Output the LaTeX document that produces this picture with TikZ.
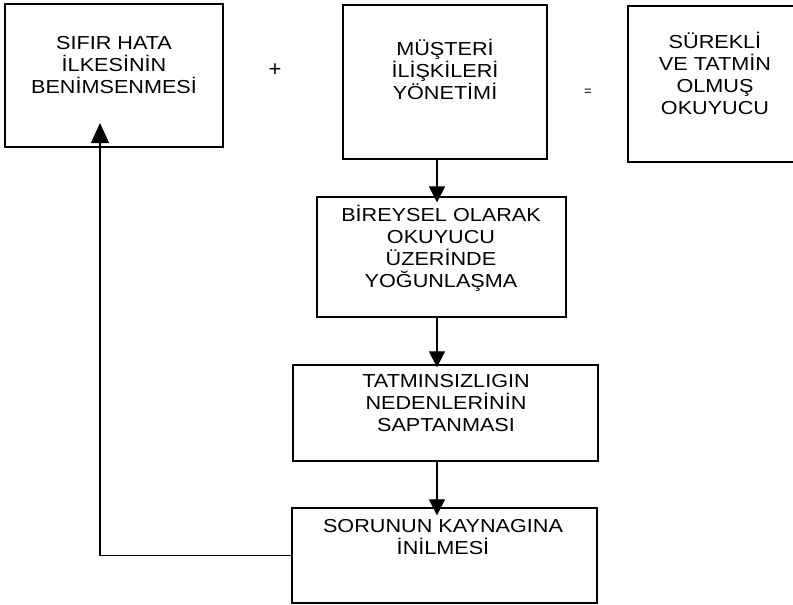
\documentclass[tikz,border=0pt]{standalone}
\usepackage{fontspec}
\setmainfont{Liberation Sans}[FakeStretch=1.15]
\newfontfamily\plainsans{Liberation Sans}
\usetikzlibrary{arrows.meta,calc}
\begin{document}
\begin{tikzpicture}[x=1pt,y=-1pt,
  box/.style={draw, line width=1.3pt, inner sep=0pt, rectangle},
  txt/.style={align=center, font=\fontsize{18.8}{22}\selectfont, inner sep=0pt},
  sym/.style={font=\plainsans\fontsize{22}{22}\selectfont, inner sep=0pt},
  arr/.style={line width=1.2pt, -{Triangle[length=16pt,width=16pt]}},
  arrbig/.style={line width=1.2pt, -{Triangle[length=20pt,width=18pt]}},
]
\useasboundingbox[fill=white] (0,0) rectangle (793,605);
% boxes
\node[box, minimum width=218pt, minimum height=143pt] (b1) at (114,75.5) {};
\node[box, minimum width=204pt, minimum height=154pt] (b2) at (445,82) {};
\node[box, minimum width=172pt, minimum height=156pt] (b3) at (714,84) {};
\node[box, minimum width=249pt, minimum height=120pt] (b4) at (441.5,257) {};
\node[box, minimum width=305pt, minimum height=96pt] (b5) at (445.5,413) {};
\node[box, minimum width=305pt, minimum height=95pt] (b6) at (444.5,555.5) {};
% texts
\node[txt] (t1) at (114,65) {SIFIR HATA\\İLKESİNİN\\BENİMSENMESİ};
\node[txt] (t2) at (445,69) {MÜŞTERİ\\İLİŞKİLERİ\\YÖNETİMİ};
\node[txt] (t3) at (715,73) {SÜREKLİ\\VE TATMİN\\OLMUŞ\\OKUYUCU};
\node[txt] (t4) at (441,248) {BİREYSEL OLARAK\\OKUYUCU\\ÜZERİNDE\\YOĞUNLAŞMA};
\node[txt] (t5) at (446,403) {TATMINSIZLIGIN\\NEDENLERİNİN\\SAPTANMASI};
\node[txt] (t6) at (443,537) {SORUNUN KAYNAGINA\\İNİLMESİ};
% operators
\node[sym] (plus) at (275,70) {+};
\node[sym, font=\plainsans\fontsize{13}{13}\selectfont] (eq) at (588,92) {=};
% connectors
\coordinate (ax) at (437,0);
\coordinate (fb) at (100,123);
\draw[arr] (b2.south -| ax) -- ([yshift=-6pt]b4.north -| ax);
\draw[arr] (b4.south -| ax) -- ([yshift=-3pt]b5.north -| ax);
\draw[arr] (b5.south -| ax) -- ([yshift=-8pt]b6.north -| ax);
\draw[arrbig] (b6.west) -| (fb);
\end{tikzpicture}
\end{document}
